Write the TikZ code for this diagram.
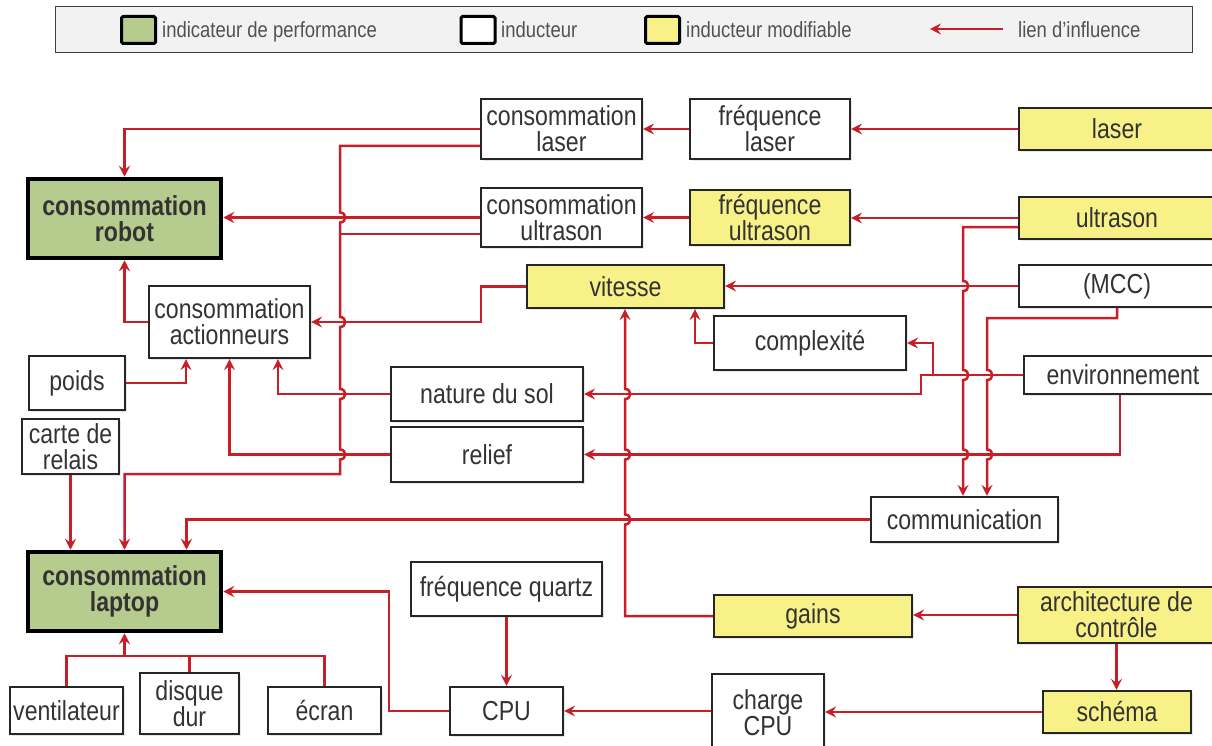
\documentclass[tikz,border=0pt]{standalone}
\usepackage{fontspec}
\setmainfont{Liberation Sans}[FakeStretch=0.84]
\usetikzlibrary{arrows.meta,shadows}
\definecolor{lred}{RGB}{200,30,40}
\definecolor{pgreen}{RGB}{182,204,143}
\definecolor{myellow}{RGB}{247,241,136}
\definecolor{txt}{RGB}{51,51,51}
\newcommand\bd[2]{-- (#1,#2-5) .. controls (#1+7,#2-5) and (#1+7,#2+5) .. (#1,#2+5)}
\newcommand\bu[2]{-- (#1,#2+5) .. controls (#1+7,#2+5) and (#1+7,#2-5) .. (#1,#2-5)}
\newcommand\bx[7]{\node[#6, minimum width={#4-#2}, minimum height={#5-#3}] (#1) at ({(#2+#4)/2},{(#3+#5)/2}) {#7};}
\tikzset{
  plain/.style={draw=black!85, line width=2.2pt, fill=white, inner sep=0pt, align=center, text=txt,
    font=\fontsize{27.5}{26}\selectfont,
    drop shadow={shadow xshift=2pt, shadow yshift=-2pt, fill=black!18}},
  modif/.style={plain, fill=myellow},
  perf/.style={plain, fill=pgreen, line width=4.5pt, draw=black, font=\fontsize{27.5}{26}\selectfont\bfseries},
  wire/.style={draw=lred, line width=2.5pt},
  link/.style={wire, -{Stealth[length=11pt,width=11pt,inset=4pt]}},
  lsq/.style={draw=black, line width=3pt, rounded corners=1.5pt, minimum width=34pt, minimum height=27pt, inner sep=0pt,
    drop shadow={shadow xshift=1.5pt, shadow yshift=-1.5pt, fill=black!18}},
  ltext/.style={anchor=base west, inner sep=0pt, text=txt!85, font=\fontsize{22}{24}\selectfont}
}
\begin{document}
\begin{tikzpicture}[x=1pt,y=-1pt]
\useasboundingbox (0,0) rectangle (1212,746);
\fill[white] (0,0) rectangle (1212,746);
% legend
\node[draw=black!75, fill=gray!10, line width=1.5pt, minimum width=1137pt, minimum height=46pt, inner sep=0pt] (legend) at (624,29.5) {};
\node[lsq, fill=pgreen] (lg) at (138.5,30) {};
\node[ltext] (lgt) at (162,37.5) {indicateur de performance};
\node[lsq, fill=white] (lw) at (478,30) {};
\node[ltext] (lwt) at (501,37.5) {inducteur};
\node[lsq, fill=myellow] (ly) at (662.5,30) {};
\node[ltext] (lyt) at (686,37.5) {inducteur modifiable};
\coordinate (la1) at (1003,29);
\coordinate (la2) at (930,29);
\draw[link] (la1) -- (la2);
\node[ltext] (lat) at (1018,37.5) {lien d'influence};
% nodes
\bx{claser}{481}{99}{642}{159}{plain}{consommation\\laser}
\bx{flaser}{690}{99}{850}{159}{plain}{fréquence\\laser}
\bx{laser}{1019}{108}{1215}{150}{modif}{laser}
\bx{robot}{28}{179}{221}{258}{perf}{consommation\\robot}
\bx{cus}{481}{188}{642}{247}{plain}{consommation\\ultrason}
\bx{fus}{690}{190}{850}{245}{modif}{fréquence\\ultrason}
\bx{us}{1019}{197}{1215}{239}{modif}{ultrason}
\bx{vit}{527}{265}{724}{308}{modif}{vitesse}
\bx{mcc}{1019}{265}{1215}{307}{plain}{(MCC)}
\bx{act}{149}{286}{310}{358}{plain}{consommation\\actionneurs}
\bx{cplx}{714}{316}{906}{370}{plain}{complexité}
\bx{poids}{29}{356}{125}{410}{plain}{poids}
\bx{env}{1024}{356}{1222}{394}{plain}{environnement}
\bx{sol}{391}{367}{583}{421}{plain}{nature du sol}
\bx{relief}{391}{427}{583}{482}{plain}{relief}
\bx{carte}{22}{419}{119}{474}{plain}{carte de\\relais}
\bx{comm}{871}{497}{1058}{542}{plain}{communication}
\bx{laptop}{28}{552}{221}{631}{perf}{consommation\\laptop}
\bx{fq}{411}{562}{602}{616}{plain}{fréquence quartz}
\bx{gains}{714}{595}{912}{637}{modif}{gains}
\bx{arch}{1018}{587}{1215}{643}{modif}{architecture de\\contrôle}
\bx{vent}{10}{687}{123}{734}{plain}{ventilateur}
\bx{disque}{140}{673}{239}{734}{plain}{disque\\dur}
\bx{ecran}{268}{687}{381}{734}{plain}{écran}
\bx{cpu}{450}{687}{563}{735}{plain}{CPU}
\bx{charge}{712}{674}{824}{752}{plain}{charge\\CPU}
\bx{schema}{1043}{691}{1191}{733}{modif}{schéma}
% links
\draw[link] (flaser.west) -- (claser.east);
\draw[link] (laser.west) -- (flaser.east);
\draw[link] (claser.west) -| (robot.north);
\draw[link] (claser.west |- 0,146) -- (340,146) \bd{340}{217.5} \bd{340}{322} \bd{340}{394} \bd{340}{454.5} -- (340,474) -| (laptop.north);
\draw[link] (cus.west) -- (robot.east |- cus.west);
\draw[wire] (cus.west |- 0,234) -- (340,234);
\draw[link] (fus.west) -- (cus.east |- fus.west);
\draw[link] (us.west) -- (fus.east |- us.west);
\draw[link] (us.west |- 0,227) -- (963,227) \bd{963}{286} \bd{963}{375} \bd{963}{454.5} -- (comm.north -| 963,0);
\draw[link] (mcc.west) -- (vit.east |- mcc.west);
\draw[link] (mcc.south) |- (987,318) \bd{987}{375} \bd{987}{454.5} -- (comm.north -| 987,0);
\draw[link] (vit.west) -| (481,322) -- (act.east);
\draw[link] (act.west) -| (robot.south);
\draw[link] (poids.east) -| ([xshift=-43.5pt]act.south);
\draw[link] (sol.west) -| ([xshift=48.5pt]act.south);
\draw[link] (relief.west) -| (act.south);
\draw[link] (env.west) -- (921,375) |- (sol.east);
\draw[link] (933,375) |- (cplx.east);
\draw[link] ([xshift=-3pt]env.south) |- (relief.east);
\draw[link] (comm.west) -| ([xshift=62pt]laptop.north);
\draw[link] (carte.south) -- (laptop.north -| carte.south);
\draw[link] (cplx.west) -| (vit.south -| 695,0);
\draw[link] (gains.west) -- (625,616) \bu{625}{519.5} \bu{625}{454.5} \bu{625}{394} -- (vit.south -| 625,0);
\draw[link] (arch.west) -- (gains.east |- arch.west);
\draw[link] (arch.south) -- (schema.north -| arch.south);
\draw[link] (schema.west) -- (charge.east |- schema.west);
\draw[link] (charge.west |- cpu.east) -- (cpu.east);
\draw[link] (fq.south) -- (cpu.north -| fq.south);
\draw[link] (cpu.west) -| (389,591.5) -- (laptop.east);
\draw[wire] (vent.north) |- (ecran.north |- 0,656) -- (ecran.north);
\draw[wire] (disque.north) -- (disque.north |- 0,656);
\draw[link] (laptop.south |- 0,656) -- (laptop.south);
\end{tikzpicture}
\end{document}
